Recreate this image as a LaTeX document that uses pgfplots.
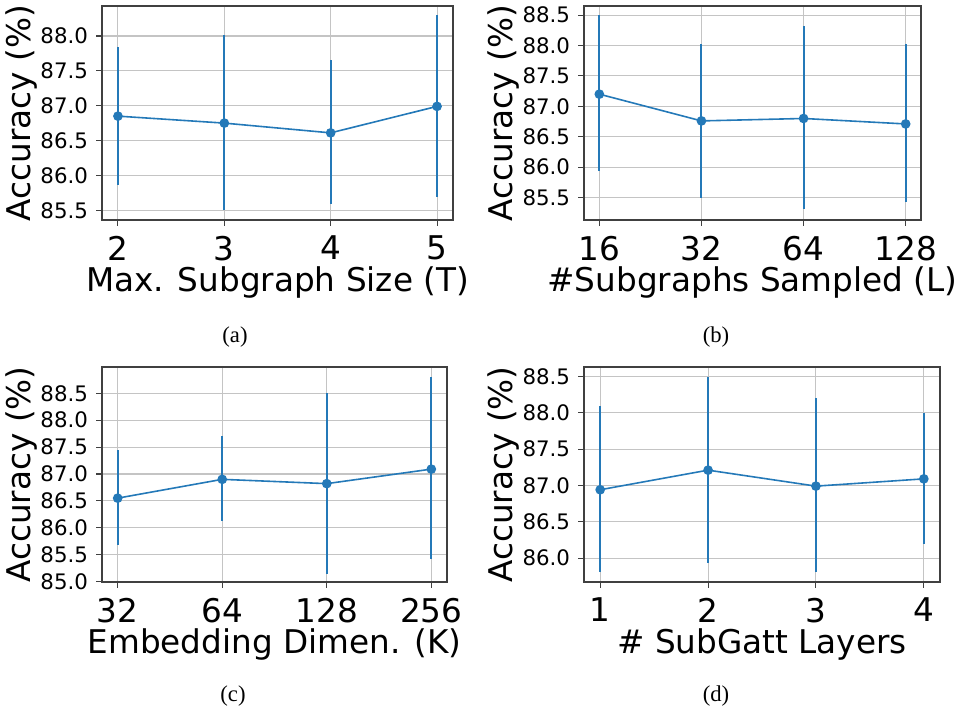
\documentclass[border=0pt]{standalone}
\usepackage{pgfplots}
\pgfplotsset{compat=1.18}
\usepackage{pgfplotstable}
\usepackage{fontspec}
\setmainfont{DejaVu Sans}
\newfontfamily\capfont{Liberation Serif}

\definecolor{cblue}{HTML}{2479B8}
\definecolor{gridc}{HTML}{C4C4C4}

% x  mean  lower  upper
\pgfplotstableread{
x y lo hi
2 86.85 85.86 87.84
3 86.75 85.51 88.02
4 86.61 85.59 87.66
5 86.99 85.69 88.30
}\tabA
\pgfplotstableread{
x y lo hi
0 87.20 85.93 88.50
1 86.76 85.50 88.02
2 86.80 85.31 88.32
3 86.71 85.42 88.02
}\tabB
\pgfplotstableread{
x y lo hi
0 86.55 85.67 87.44
1 86.90 86.12 87.71
2 86.82 85.14 88.50
3 87.09 85.41 88.80
}\tabC
\pgfplotstableread{
x y lo hi
1 86.94 85.81 88.09
2 87.21 85.93 88.49
3 86.99 85.81 88.20
4 87.09 86.20 87.99
}\tabD

\newcommand{\bigfont}{\fontsize{24.5}{24.5}\selectfont}
\newcommand{\capsize}{\capfont\fontsize{17}{17}\selectfont}

\pgfplotsset{
  abl/.style={
    scale only axis, anchor=south west,
    axis line style={black!75, line width=0.9pt},
    tick pos=left, tick align=outside, major tick length=4.3pt,
    every tick/.style={black!75, line width=0.8pt},
    grid=major, major grid style={gridc, line width=0.8pt},
    /pgf/number format/assume math mode=true,
    yticklabel style={font=\fontsize{16}{16}\selectfont, inner sep=0pt, xshift=-6pt,
      /pgf/number format/.cd, fixed, fixed zerofill, precision=1},
    xticklabel style={font=\bigfont, inner sep=0pt, yshift=-7.5pt},
    ylabel={Accuracy (\%)},
    ylabel style={font=\bigfont, inner sep=0pt, anchor=south,
      at={([xshift=-48pt]axis description cs:0,0.5)}},
    xlabel style={font=\bigfont, inner sep=0pt, anchor=north,
      at={([yshift=-35pt]axis description cs:0.5,0)}},
  },
  errline/.style={cblue, line width=1.2pt, mark=*, mark size=3pt,
    mark options={solid, fill=cblue},
    error bars/.cd, y dir=both, y explicit, error mark=none,
    error bar style={line width=1.5pt, cblue}},
}

\begin{document}
\begin{tikzpicture}
\path[use as bounding box] (0,0) rectangle (719.25pt,531pt);

% (a)
\begin{axis}[abl, at={(76.5pt,366pt)}, width=263.25pt, height=160.5pt,
  xmin=1.85, xmax=5.15, ymin=85.36, ymax=88.43,
  xtick={2,3,4,5}, ytick={85.5,86,86.5,87,87.5,88},
  xlabel={Max. Subgraph Size (T)}]
  \addplot[errline] table[x=x, y=y, y error plus expr=\thisrow{hi}-\thisrow{y},
    y error minus expr=\thisrow{y}-\thisrow{lo}] {\tabA};
\end{axis}

% (b)
\begin{axis}[abl, at={(438pt,366pt)}, width=252.75pt, height=160.5pt,
  xmin=-0.15, xmax=3.15, ymin=85.13, ymax=88.65,
  xtick={0,1,2,3}, xticklabels={16,32,64,128},
  ytick={85.5,86,86.5,87,87.5,88,88.5},
  xlabel={\#Subgraphs Sampled (L)}]
  \addplot[errline] table[x=x, y=y, y error plus expr=\thisrow{hi}-\thisrow{y},
    y error minus expr=\thisrow{y}-\thisrow{lo}] {\tabB};
\end{axis}

% (c)
\begin{axis}[abl, at={(76.5pt,94.5pt)}, width=258.75pt, height=161.25pt,
  xmin=-0.15, xmax=3.15, ymin=84.99, ymax=88.99,
  xtick={0,1,2,3}, xticklabels={32,64,128,256},
  ytick={85,85.5,86,86.5,87,87.5,88,88.5},
  xlabel={Embedding Dimen. (K)}]
  \addplot[errline] table[x=x, y=y, y error plus expr=\thisrow{hi}-\thisrow{y},
    y error minus expr=\thisrow{y}-\thisrow{lo}] {\tabC};
\end{axis}

% (d)
\begin{axis}[abl, at={(438pt,94.5pt)}, width=267pt, height=161.25pt,
  xmin=0.85, xmax=4.15, ymin=85.67, ymax=88.63,
  xtick={1,2,3,4}, ytick={86,86.5,87,87.5,88,88.5},
  xlabel={\# SubGatt Layers}]
  \addplot[errline] table[x=x, y=y, y error plus expr=\thisrow{hi}-\thisrow{y},
    y error minus expr=\thisrow{y}-\thisrow{lo}] {\tabD};
\end{axis}

\node[font=\capsize] at (176.25pt,278.25pt) {(a)};
\node[font=\capsize] at (537pt,278.25pt) {(b)};
\node[font=\capsize] at (174.75pt,9pt) {(c)};
\node[font=\capsize] at (537pt,9pt) {(d)};
\end{tikzpicture}
\end{document}
